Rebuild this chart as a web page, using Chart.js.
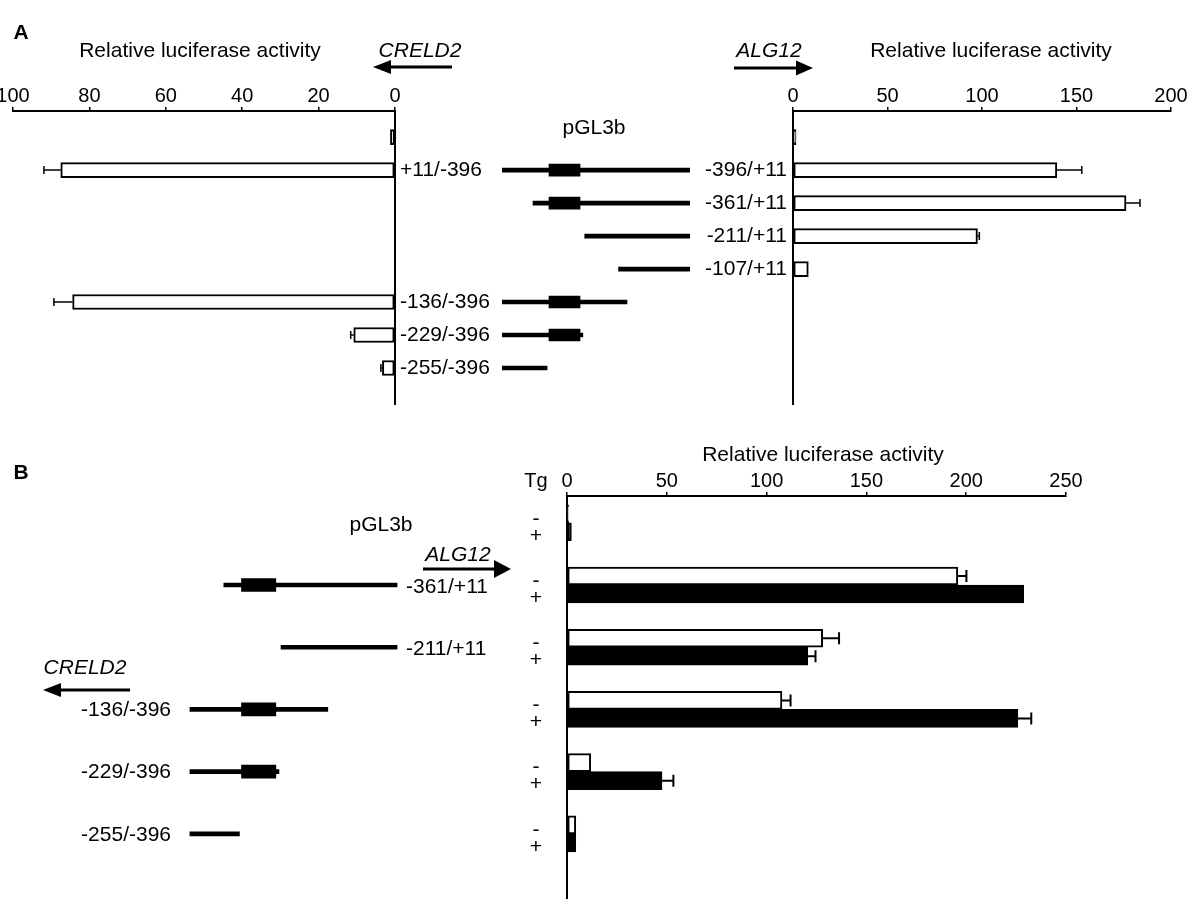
<!DOCTYPE html>
<html>
<head>
<meta charset="utf-8">
<script src="https://cdn.jsdelivr.net/npm/chart.js@4.4.1/dist/chart.umd.min.js"></script>
<style>
body { margin: 0; background: #fff; }
#wrap { position: relative; width: 1200px; height: 913px; overflow: hidden; font-family: "Liberation Sans", Arial, sans-serif; color: #000; }
canvas, svg { position: absolute; left: 0; top: 0; }
.t { position: absolute; transform: translate(-50%, -50%); white-space: nowrap; font-size: 21px; line-height: 1; }
.i { font-style: italic; }
.b { font-weight: bold; }
</style>
</head>
<body>
<div id="wrap">
  <canvas id="aLeft" width="1200" height="913"></canvas>
  <canvas id="aRight" width="1200" height="913"></canvas>
  <canvas id="aMap" width="1200" height="913"></canvas>
  <canvas id="bBars" width="1200" height="913"></canvas>
  <canvas id="bMap" width="1200" height="913"></canvas>

  <svg width="1200" height="913">
    <line x1="389" y1="67" x2="452" y2="67" stroke="#000" stroke-width="3"/>
    <polygon points="373,67 391,60 391,74" fill="#000"/>
    <line x1="734" y1="68" x2="797" y2="68" stroke="#000" stroke-width="3"/>
    <polygon points="813,68 796,60.5 796,75.5" fill="#000"/>
    <line x1="423" y1="569" x2="495" y2="569" stroke="#000" stroke-width="3"/>
    <polygon points="511,569 494,560 494,578" fill="#000"/>
    <line x1="60" y1="690" x2="130" y2="690" stroke="#000" stroke-width="3"/>
    <polygon points="43,690 61,683 61,697" fill="#000"/>
  </svg>

  <div class="t b" style="left:21px;top:31px;">A</div>
  <div class="t" style="left:200px;top:49px;">Relative luciferase activity</div>
  <div class="t i" style="left:420px;top:49px;">CRELD2</div>
  <div class="t i" style="left:769px;top:49px;">ALG12</div>
  <div class="t" style="left:991px;top:49px;">Relative luciferase activity</div>

  <div class="t b" style="left:21px;top:471px;">B</div>
  <div class="t" style="left:823px;top:453px;">Relative luciferase activity</div>
  <div class="t" style="left:536px;top:480px;font-size:20px;">Tg</div>
  <div class="t i" style="left:458px;top:553px;">ALG12</div>
  <div class="t i" style="left:85px;top:666px;">CRELD2</div>
</div>

<script>
// Panel A rows (top to bottom)
const aRows = ['pGL3b', '-396/+11', '-361/+11', '-211/+11', '-107/+11', '-136/-396', '-229/-396', '-255/-396'];
const aCreldLabels = ['', '+11/-396', '', '', '', '-136/-396', '-229/-396', '-255/-396'];
const aAlgLabels = ['', '-396/+11', '-361/+11', '-211/+11', '-107/+11', '', '', ''];

// CRELD2 direction (left chart) and ALG12 direction (right chart)
const aCreldVals = [1.2, 87.5, null, null, null, 84.4, 10.8, 3.3];
const aCreldErr  = [0, 4.4, null, null, null, 4.9, 0.8, 0.4];
const aAlgVals   = [1.6, 139.6, 176.2, 97.6, 8.1, null, null, null];
const aAlgErr    = [0, 13.2, 7.4, 1, 0, null, null, null];

// promoter fragment map (relative units, 0..100)
const lineStart = [null, 0, 16.5, 44, 62, 0, 0, 0];
const lineEnd   = [null, 100, 100, 100, 100, 66.5, 43, 24];
const hasBox    = [false, true, true, false, false, true, true, false];
const boxSpan   = [25, 41.5];

// Panel B rows
const bRows = ['pGL3b', '-361/+11', '-211/+11', '-136/-396', '-229/-396', '-255/-396'];
const bGene = ['', 'ALG12', 'ALG12', 'CRELD2', 'CRELD2', 'CRELD2'];
const bMinusTg  = [0.8, 195.8, 128.1, 107.7, 11.9, 4.4];
const bMinusErr = [0, 4.3, 8.2, 4.3, 0, 0];
const bPlusTg   = [2.2, 228.8, 120.6, 225.9, 47.6, 4.4];
const bPlusErr  = [0, 0, 3.9, 6.7, 5.7, 0];

Chart.defaults.font.family = '"Liberation Sans", Arial, sans-serif';
Chart.defaults.color = '#000';
Chart.defaults.animation = false;
Chart.defaults.responsive = false;
Chart.defaults.events = [];
Chart.defaults.plugins.legend.display = false;
Chart.defaults.plugins.tooltip.enabled = false;

const FONT = '21px "Liberation Sans", Arial, sans-serif';

function topAxis(min, max, step, reverse) {
    return {
        type: 'linear', position: 'top', min: min, max: max, reverse: !!reverse, offset: false,
        ticks: { stepSize: step, font: { size: 20, lineHeight: 1 }, color: '#000', padding: 1, maxRotation: 0, autoSkip: false },
        grid: { display: true, offset: false, drawOnChartArea: false, drawTicks: true, tickLength: 4, color: '#000', lineWidth: 1.5 },
        border: { display: true, color: '#000', width: 2 },
        afterFit: function (s) { s.height = 30; s.paddingLeft = 0; s.paddingRight = 0; }
    };
}

function rowAxis(min, max, pos) {
    return {
        type: 'linear', position: pos, min: min, max: max, reverse: true, offset: false,
        ticks: { display: false },
        grid: { display: false, offset: false },
        border: { display: true, color: '#000', width: 2 },
        afterFit: function (s) { s.width = 0; s.paddingTop = 0; s.paddingBottom = 0; }
    };
}

function hiddenAxis(min, max, reverse) {
    return { type: 'linear', display: false, min: min, max: max, reverse: !!reverse, offset: false, grid: { offset: false } };
}

function points(vals, errs) {
    const out = [];
    vals.forEach((v, i) => {
        if (v !== null) out.push({ x: v, y: i, e: errs ? errs[i] : 0 });
    });
    return out;
}

// error bars: line from bar end to value+error, with a cap
const errorBars = {
    id: 'errorBars',
    afterDatasetsDraw(chart, args, opts) {
        const ctx = chart.ctx;
        const xs = chart.scales.x;
        ctx.save();
        ctx.strokeStyle = '#000';
        ctx.lineWidth = opts.width || 1.5;
        chart.data.datasets.forEach((ds, di) => {
            const meta = chart.getDatasetMeta(di);
            meta.data.forEach((bar, j) => {
                const p = ds.data[j];
                if (!p || !p.e) return;
                const x0 = xs.getPixelForValue(p.x);
                const x1 = xs.getPixelForValue(p.x + p.e);
                ctx.beginPath();
                ctx.moveTo(x0, bar.y);
                ctx.lineTo(x1, bar.y);
                ctx.moveTo(x1, bar.y - opts.cap);
                ctx.lineTo(x1, bar.y + opts.cap);
                ctx.stroke();
            });
        });
        ctx.restore();
    }
};

// A rows axis range
const aMin = -0.79, aMax = 8.09;
// B rows axis range
const bMin = -0.43, bMax = 6.03;

const barStyle = { borderColor: '#000', borderWidth: 2, borderSkipped: false };

new Chart(document.getElementById('aLeft'), {
    type: 'bar',
    data: {
        datasets: [Object.assign({
            data: points(aCreldVals, aCreldErr),
            backgroundColor: '#fff',
            barThickness: 15
        }, barStyle)]
    },
    options: {
        indexAxis: 'y',
        layout: { padding: { left: 13, right: 805, top: 81, bottom: 509 } },
        scales: { x: topAxis(0, 100, 20, true), y: rowAxis(aMin, aMax, 'right') },
        plugins: { errorBars: { cap: 4, width: 1.5 } }
    },
    plugins: [errorBars]
});

new Chart(document.getElementById('aRight'), {
    type: 'bar',
    data: {
        datasets: [Object.assign({
            data: points(aAlgVals, aAlgErr),
            backgroundColor: '#fff',
            barThickness: 15
        }, barStyle)]
    },
    options: {
        indexAxis: 'y',
        layout: { padding: { left: 793, right: 29, top: 81, bottom: 509 } },
        scales: { x: topAxis(0, 200, 50, false), y: rowAxis(aMin, aMax, 'left') },
        plugins: { errorBars: { cap: 4, width: 1.5 } }
    },
    plugins: [errorBars]
});

// fragment map for panel A, with the row labels
const aLabels = {
    id: 'aLabels',
    afterDraw(chart) {
        const ctx = chart.ctx;
        const ys = chart.scales.y;
        ctx.save();
        ctx.font = FONT;
        ctx.fillStyle = '#000';
        ctx.textBaseline = 'middle';
        aRows.forEach((r, i) => {
            const y = ys.getPixelForValue(i);
            if (i === 0) {
                ctx.textAlign = 'center';
                ctx.fillText(r, 594, y - 9);
                return;
            }
            if (aCreldLabels[i]) { ctx.textAlign = 'left'; ctx.fillText(aCreldLabels[i], 400, y); }
            if (aAlgLabels[i]) { ctx.textAlign = 'right'; ctx.fillText(aAlgLabels[i], 787, y); }
        });
        ctx.restore();
    }
};

const aLinePts = [], aBoxPts = [];
aRows.forEach((r, i) => {
    if (lineStart[i] !== null) aLinePts.push({ x: [lineStart[i], lineEnd[i]], y: i });
    if (hasBox[i]) aBoxPts.push({ x: boxSpan.slice(), y: i });
});

new Chart(document.getElementById('aMap'), {
    type: 'bar',
    data: {
        datasets: [
            { data: aLinePts, backgroundColor: '#000', borderWidth: 0, barThickness: 4, grouped: false },
            { data: aBoxPts, backgroundColor: '#000', borderWidth: 0, barThickness: 12, grouped: false }
        ]
    },
    options: {
        indexAxis: 'y',
        layout: { padding: { left: 502, right: 510, top: 111, bottom: 509 } },
        scales: { x: hiddenAxis(0, 100), y: hiddenAxis(aMin, aMax, true) }
    },
    plugins: [aLabels]
});

// Panel B bars, with -/+ Tg marks
const tgMarks = {
    id: 'tgMarks',
    afterDatasetsDraw(chart) {
        const ctx = chart.ctx;
        ctx.save();
        ctx.font = FONT;
        ctx.fillStyle = '#000';
        ctx.textAlign = 'center';
        ctx.textBaseline = 'middle';
        chart.data.datasets.forEach((ds, di) => {
            chart.getDatasetMeta(di).data.forEach(bar => {
                ctx.fillText(ds.mark, 536, bar.y + (di === 0 ? 5 : 4));
            });
        });
        ctx.restore();
    }
};

new Chart(document.getElementById('bBars'), {
    type: 'bar',
    data: {
        datasets: [
            Object.assign({ mark: '-', data: points(bMinusTg, bMinusErr), backgroundColor: '#fff', barThickness: 18 }, barStyle),
            Object.assign({ mark: '+', data: points(bPlusTg, bPlusErr), backgroundColor: '#000', barThickness: 18 }, barStyle)
        ]
    },
    options: {
        indexAxis: 'y',
        layout: { padding: { left: 567, right: 134, top: 466, bottom: 15 } },
        scales: { x: topAxis(0, 250, 50, false), y: rowAxis(bMin, bMax, 'left') },
        plugins: { errorBars: { cap: 6, width: 2 } }
    },
    plugins: [errorBars, tgMarks]
});

// fragment map for panel B
const bLabels = {
    id: 'bLabels',
    afterDraw(chart) {
        const ctx = chart.ctx;
        const ys = chart.scales.y;
        ctx.save();
        ctx.font = FONT;
        ctx.fillStyle = '#000';
        ctx.textBaseline = 'middle';
        bRows.forEach((r, i) => {
            const y = ys.getPixelForValue(i);
            if (i === 0) { ctx.textAlign = 'center'; ctx.fillText(r, 381, y + 2); }
            else if (bGene[i] === 'ALG12') { ctx.textAlign = 'left'; ctx.fillText(r, 406, y + 2); }
            else { ctx.textAlign = 'right'; ctx.fillText(r, 171, y + 1); }
        });
        ctx.restore();
    }
};

const bLinePts = [], bBoxPts = [];
bRows.forEach((r, i) => {
    const k = aRows.indexOf(r);
    if (i === 0 || k < 0) return;
    bLinePts.push({ x: [lineStart[k], lineEnd[k]], y: i });
    if (hasBox[k]) bBoxPts.push({ x: boxSpan.slice(), y: i });
});

new Chart(document.getElementById('bMap'), {
    type: 'bar',
    data: {
        datasets: [
            { data: bLinePts, backgroundColor: '#000', borderWidth: 0, barThickness: 4, grouped: false },
            { data: bBoxPts, backgroundColor: '#000', borderWidth: 0, barThickness: 13, grouped: false }
        ]
    },
    options: {
        indexAxis: 'y',
        layout: { padding: { left: 189.5, right: 802.5, top: 496, bottom: 15 } },
        scales: { x: hiddenAxis(0, 100), y: hiddenAxis(bMin, bMax, true) }
    },
    plugins: [bLabels]
});
</script>
</body>
</html>
